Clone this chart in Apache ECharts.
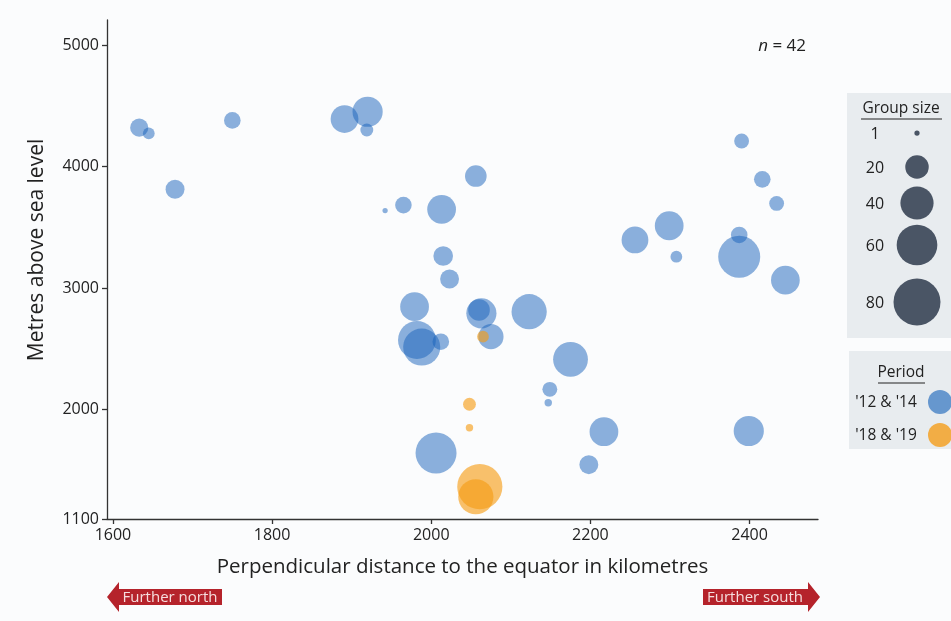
<!DOCTYPE html>
<html>
<head>
<meta charset="utf-8">
<script src="https://cdn.jsdelivr.net/npm/echarts@6.0.0/dist/echarts.min.js"></script>
<style>
  html, body { margin: 0; padding: 0; background: #fbfcfd; }
  #chart { width: 951px; height: 621px; }
</style>
</head>
<body>
<div id="chart"></div>
<script>
// Period '12 & '14
const distance1214 = [1633, 1645, 1750, 1678, 1891, 1920, 1919, 1942, 1965, 2056, 2013, 2015, 2023, 1979, 1982, 1988, 2012, 2063, 2060, 2075, 2123, 2175, 2149, 2147, 2006, 2390, 2416, 2434, 2256, 2299, 2308, 2387, 2387, 2445, 2217, 2198, 2399];
const altitude1214 = [4320, 4273, 4380, 3813, 4391, 4451, 4301, 3638, 3683, 3922, 3648, 3264, 3075, 2847, 2573, 2515, 2559, 2792, 2820, 2600, 2806, 2414, 2167, 2057, 1643, 4210, 3895, 3697, 3396, 3513, 3258, 3437, 3258, 3066, 1818, 1547, 1824];
const groupSize1214 = [12, 5, 10, 13, 28, 33, 6, 1, 10, 17, 30, 14, 13, 30, 52, 50, 10, 33, 17, 23, 45, 44, 8, 2, 61, 8, 10, 8, 26, 30, 5, 10, 64, 30, 30, 13, 33];
// Period '18 & '19
const distance1819 = [2065, 2048, 2048, 2061, 2056];
const altitude1819 = [2600, 2044, 1851, 1366, 1283];
const groupSize1819 = [5, 6, 2, 74, 45];

const xTicks = [1600, 1800, 2000, 2200, 2400];
const yTicks = [1100, 2000, 3000, 4000, 5000];
const legendSizes = [1, 20, 40, 60, 80];
const periods = ["'12 & '14", "'18 & '19"];
const sampleSize = distance1214.length + distance1819.length;

const FONT = '"Open Sans"';
const blue = 'rgba(22, 98, 186, 0.62)';
const orange = 'rgba(245, 155, 20, 0.78)';
const sizeOf = n => 5.25 * Math.sqrt(n);

function zip(xs, ys, ns) { return xs.map((x, i) => [x, ys[i], ns[i]]); }

const chart = echarts.init(document.getElementById('chart'), null, { renderer: 'canvas' });

const graphics = [];
// y axis title
graphics.push({ type: 'text', x: 37, y: 250, rotation: Math.PI / 2,
  style: { text: 'Metres above sea level', font: '21px ' + FONT, fill: '#222', align: 'center', verticalAlign: 'middle' } });
// n = 42
graphics.push({ type: 'text', x: 806, y: 46,
  style: { text: '{i|n} = ' + sampleSize, align: 'right', verticalAlign: 'middle',
    rich: { i: { fontStyle: 'italic', fontSize: 17, fontFamily: 'Open Sans', fill: '#222' } },
    font: '17px ' + FONT, fill: '#222' } });
// Group size legend box
graphics.push({ type: 'rect', shape: { x: 847, y: 93, width: 110, height: 245 }, style: { fill: '#e8ecef' } });
graphics.push({ type: 'text', x: 901, y: 109, style: { text: 'Group size', font: '15.5px ' + FONT, fill: '#222', align: 'center', verticalAlign: 'middle' } });
graphics.push({ type: 'line', shape: { x1: 861, y1: 119, x2: 942, y2: 119 }, style: { stroke: '#222', lineWidth: 1 } });
const sizeRowsY = [134, 168, 204, 246, 303];
legendSizes.forEach((s, i) => {
  graphics.push({ type: 'text', x: 875, y: sizeRowsY[i], style: { text: String(s), font: '16px ' + FONT, fill: '#222', align: 'center', verticalAlign: 'middle' } });
  graphics.push({ type: 'circle', shape: { cx: 917, cy: sizeRowsY[i] - 1, r: sizeOf(s) / 2 }, style: { fill: '#4a5565' } });
});
// Period legend box
graphics.push({ type: 'rect', shape: { x: 849, y: 351, width: 110, height: 98 }, style: { fill: '#e8ecef' } });
graphics.push({ type: 'text', x: 901, y: 373, style: { text: 'Period', font: '15.5px ' + FONT, fill: '#222', align: 'center', verticalAlign: 'middle' } });
graphics.push({ type: 'line', shape: { x1: 878, y1: 383, x2: 925, y2: 383 }, style: { stroke: '#222', lineWidth: 1 } });
const periodColors = [blue, orange];
const periodRowsY = [403, 436];
periods.forEach((p, i) => {
  graphics.push({ type: 'text', x: 886, y: periodRowsY[i], style: { text: p, font: '15.5px ' + FONT, fill: '#222', align: 'center', verticalAlign: 'middle' } });
  graphics.push({ type: 'circle', shape: { cx: 940, cy: periodRowsY[i] - 1, r: 12 }, style: { fill: periodColors[i] } });
});
// Arrows
const red = '#b5232b';
graphics.push({ type: 'polygon', shape: { points: [[107, 597], [119, 582], [119, 589], [222, 589], [222, 605], [119, 605], [119, 612]] }, style: { fill: red } });
graphics.push({ type: 'text', x: 170, y: 598, style: { text: 'Further north', font: '15px ' + FONT, fill: '#f6dede', align: 'center', verticalAlign: 'middle' } });
graphics.push({ type: 'polygon', shape: { points: [[820, 597], [808, 582], [808, 589], [703, 589], [703, 605], [808, 605], [808, 612]] }, style: { fill: red } });
graphics.push({ type: 'text', x: 755, y: 598, style: { text: 'Further south', font: '15px ' + FONT, fill: '#f6dede', align: 'center', verticalAlign: 'middle' } });

const axisLine = { show: true, lineStyle: { color: '#333', width: 1.3 } };
const tickStyle = { show: true, length: 5, lineStyle: { color: '#333', width: 1.3 } };
const labelStyle = { color: '#222', fontSize: 16, fontFamily: 'Open Sans', margin: 8, formatter: v => String(v) };

chart.setOption({
  backgroundColor: '#fbfcfd',
  animation: false,
  grid: { left: 107, right: 133, top: 20, bottom: 102 },
  xAxis: {
    type: 'value', min: 1592.5, max: 2486,
    name: 'Perpendicular distance to the equator in kilometres',
    nameLocation: 'middle', nameGap: 38,
    nameTextStyle: { color: '#222', fontSize: 20.5, fontFamily: 'Open Sans' },
    axisLine: axisLine,
    axisTick: Object.assign({ customValues: xTicks }, tickStyle),
    axisLabel: Object.assign({ customValues: xTicks }, labelStyle),
    splitLine: { show: false }
  },
  yAxis: {
    type: 'value', min: 1100, max: 5206,
    axisLine: axisLine,
    axisTick: Object.assign({ customValues: yTicks }, tickStyle),
    axisLabel: Object.assign({ customValues: yTicks }, labelStyle),
    splitLine: { show: false }
  },
  series: [
    { type: 'scatter', name: periods[0], data: zip(distance1214, altitude1214, groupSize1214),
      symbolSize: v => sizeOf(v[2]), itemStyle: { color: blue }, emphasis: { disabled: true } },
    { type: 'scatter', name: periods[1], data: zip(distance1819, altitude1819, groupSize1819),
      symbolSize: v => sizeOf(v[2]), itemStyle: { color: orange }, emphasis: { disabled: true } }
  ],
  graphic: graphics
});
</script>
</body>
</html>
